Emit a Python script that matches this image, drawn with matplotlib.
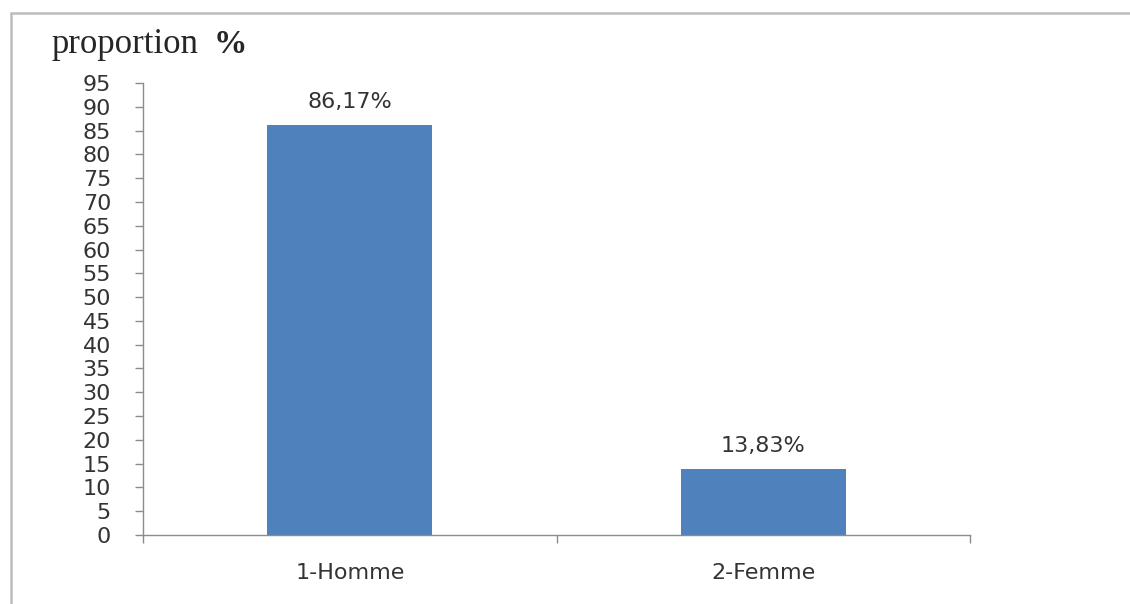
import matplotlib
matplotlib.use("Agg")
import matplotlib.pyplot as plt
from matplotlib.patches import Rectangle
import numpy as np

# data
categories = ["1-Homme", "2-Femme"]
values = [86.17, 13.83]
value_labels = ["86,17%", "13,83%"]
yticks = list(range(0, 96, 5))

txt = dict(family="DejaVu Sans", fontsize=16, color="#333333")

fig = plt.figure(figsize=(11.3, 6.04), dpi=100)
fig.patch.set_facecolor("white")

# thin frame around the chart (only left and top edges visible in picture)
fig.add_artist(Rectangle((11 / 1130, -0.01), 1.2, 1 - 13 / 604 + 0.01,
                         transform=fig.transFigure, fill=False,
                         edgecolor="#bdbdbd", linewidth=1.8))

ax = fig.add_axes([143 / 1130, 1 - 535 / 604, (970 - 143) / 1130, (535 - 83) / 604])

x = np.arange(len(categories))
ax.bar(x, values, width=0.4, color="#4F81BD", zorder=2)

for xi, v, lab in zip(x, values, value_labels):
    ax.text(xi, v + 3.6, lab, ha="center", va="baseline", **txt)

ax.set_xlim(-0.5, 1.5)
ax.set_ylim(0, 95)
ax.set_yticks(yticks)
ax.set_yticklabels([str(t) for t in yticks], **txt)

# category boundary ticks, labels in the middle
ax.set_xticks([-0.5, 0.5, 1.5])
ax.set_xticklabels(["", "", ""])
ax.set_xticks(x, minor=True)
ax.set_xticklabels(categories, minor=True, **txt)
ax.tick_params(axis="x", which="minor", length=0, pad=20)
ax.tick_params(axis="x", which="major", length=6, color="#8c8c8c", width=1)
ax.tick_params(axis="y", length=6, color="#8c8c8c", width=1, pad=17)

for s in ["top", "right"]:
    ax.spines[s].set_visible(False)
for s in ["left", "bottom"]:
    ax.spines[s].set_color("#8c8c8c")
    ax.spines[s].set_linewidth(1)

fig.text(52 / 1130, 1 - 53 / 604, "proportion", family="Liberation Serif",
         fontsize=25, color="#262626", va="baseline", ha="left")
fig.text(214 / 1130, 1 - 53 / 604, "%", family="Liberation Serif", fontweight="bold",
         fontsize=24, color="#262626", va="baseline", ha="left")

fig.savefig("out.png", dpi=100)
